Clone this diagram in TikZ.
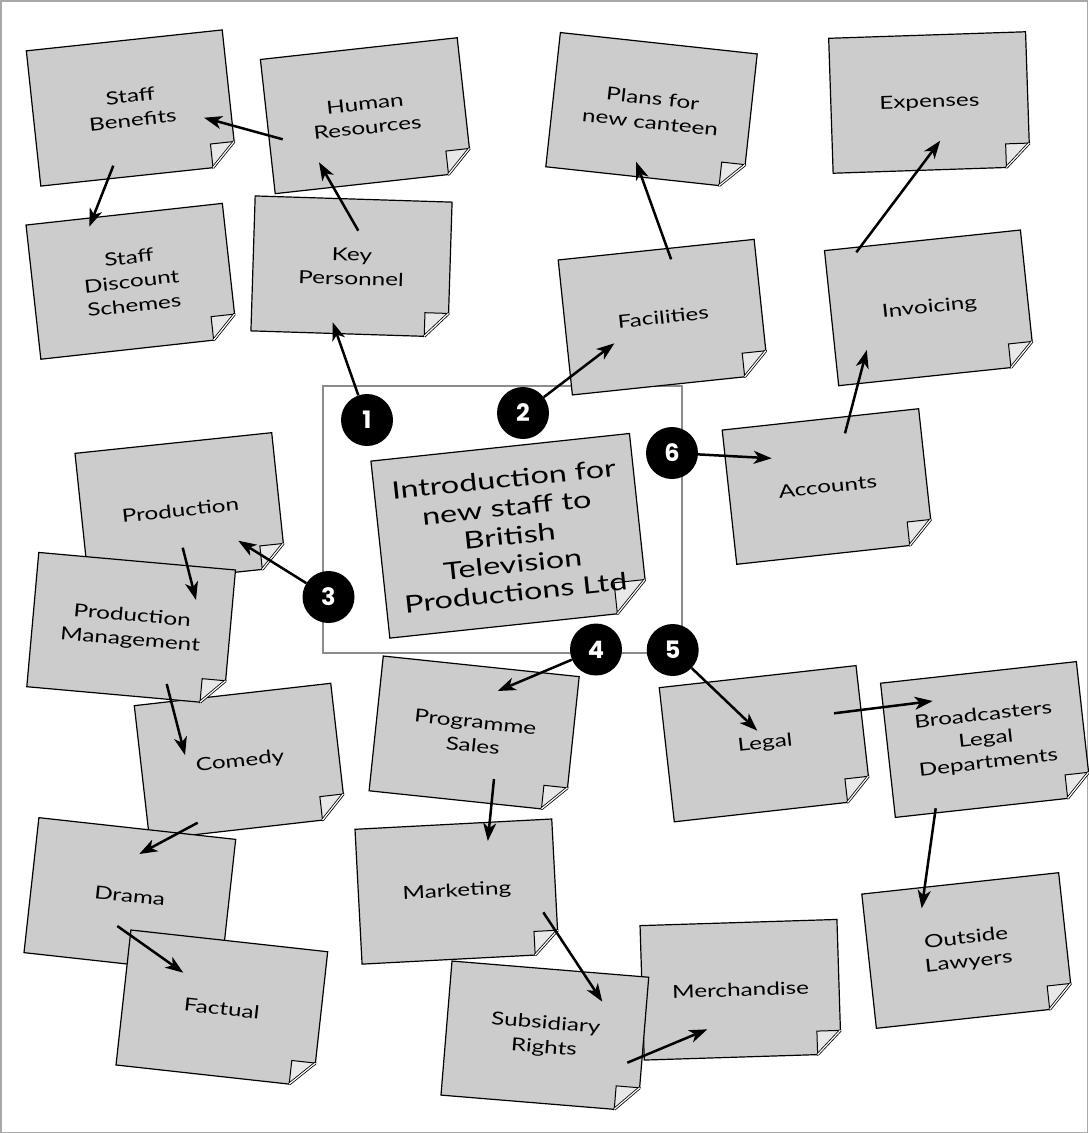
\documentclass[tikz,border=0pt]{standalone}
\usepackage{fontspec}
\setmainfont{Lato}[FakeStretch=1.35]
\newfontfamily\numfont{Poppins}
\usetikzlibrary{arrows.meta}
\definecolor{notegray}{HTML}{CCCCCC}
\definecolor{foldgray}{HTML}{E8E8E8}
\definecolor{framegray}{HTML}{8C8C8C}
\definecolor{bordergray}{HTML}{A8A8A8}
\tikzset{
  notebody/.style={fill=notegray, draw=black, line width=1.2pt, line join=miter},
  notefold/.style={fill=foldgray, draw=black, line width=1pt, line join=miter},
  notecrease/.style={draw=black, line width=0.8pt, double=white, double distance=1.2pt},
  notetext/.style={align=center, inner sep=0pt, font=\fontsize{18}{24}\selectfont},
  bigtext/.style={align=center, inner sep=0pt, font=\fontsize{24}{28.5}\selectfont},
  conn/.style={line width=2.5pt, -{Stealth[length=18pt,width=13pt,inset=5pt]}},
  numdot/.style={circle, fill=black, minimum size=52pt, inner sep=0pt, text=white,
    font=\numfont\bfseries\fontsize{24}{24}\selectfont},
  framebox/.style={draw=framegray, line width=2pt, minimum width=359pt, minimum height=267pt, inner sep=0pt},
}
% name, cx, cy, angle, w, h, text, text style
\newcommand\stickynote[8]{%
  \begin{scope}[shift={(#2,#3)},rotate=#4]
    \pgfmathsetmacro\nhw{#5/2}\pgfmathsetmacro\nhh{#6/2}\pgfmathsetmacro\ncut{#6*0.175}
    \filldraw[notebody] (-\nhw,-\nhh) -- (\nhw,-\nhh) -- (\nhw,\nhh-\ncut) -- (\nhw-\ncut,\nhh) -- (-\nhw,\nhh) -- cycle;
    \filldraw[notefold] (\nhw,\nhh-\ncut) -- (\nhw-\ncut,\nhh-\ncut) -- (\nhw-\ncut,\nhh) -- cycle;
    \draw[notecrease] (\nhw,\nhh-\ncut) -- (\nhw-\ncut,\nhh);
  \end{scope}
  \node[#8,rotate=#4] (#1) at (#2,#3) {#7};
}
\begin{document}
\begin{tikzpicture}[x=1pt,y=-1pt]
\useasboundingbox (0,0) rectangle (1088,1133);
\draw[bordergray, line width=1.5pt] (0.75,0.75) rectangle (1087.25,1132.25);
\node[framebox] (frame) at (502.5,519.5) {};

\stickynote{hr}{366.2}{115.7}{6.3}{198}{135}{Human\\Resources}{notetext}
\stickynote{sb}{131.5}{108}{6.1}{197}{136}{Staff\\Benefits}{notetext}
\stickynote{sds}{131.6}{281.3}{6.3}{197.5}{135}{Staff\\Discount\\Schemes}{notetext}
\stickynote{kp}{351.5}{266.5}{-1.8}{197}{135}{Key\\Personnel}{notetext}
\stickynote{plans}{651.5}{110.35}{-6.2}{198}{135}{Plans for\\new canteen}{notetext}
\stickynote{fac}{663.25}{317.15}{6.0}{197}{135.7}{Facilities}{notetext}
\stickynote{exp}{929.35}{102.5}{1.9}{197}{135}{Expenses}{notetext}
\stickynote{inv}{929.55}{307.85}{6.0}{197}{135.8}{Invoicing}{notetext}
\stickynote{acc}{827.7}{486.5}{6.2}{197.6}{135}{Accounts}{notetext}
\stickynote{intro}{509.65}{535.8}{6.1}{260}{178}{Introduction for\\new staff to\\British\\Television\\Productions Ltd}{bigtext}
\stickynote{prod}{180.4}{510.15}{6.0}{197.8}{135}{Production}{notetext}
\stickynote{com}{240.15}{761.55}{6.5}{197.7}{135}{Comedy}{notetext}
\stickynote{pm}{131.15}{628.35}{-5.1}{197.5}{134.8}{Production\\Management}{notetext}
\stickynote{dra}{129.85}{896}{-6.3}{198}{135.8}{Drama}{notetext}
\stickynote{fact}{221.85}{1008.35}{-6.3}{198}{135.8}{Factual}{notetext}
\stickynote{ps}{474.15}{733.7}{-6.0}{197}{135.5}{Programme\\Sales}{notetext}
\stickynote{mkt}{456.9}{891.55}{3}{197}{135}{Marketing}{notetext}
\stickynote{merch}{740.6}{989.75}{1.8}{197}{134.5}{Merchandise}{notetext}
\stickynote{sub}{544.85}{1036.15}{-4.7}{197.4}{134.5}{Subsidiary\\Rights}{notetext}
\stickynote{legal}{765.15}{743.7}{6.4}{198}{135}{Legal}{notetext}
\stickynote{bld}{985.85}{739.5}{6.3}{197}{135}{Broadcasters\\Legal\\Departments}{notetext}
\stickynote{ol}{967.5}{950.5}{6.2}{198}{135}{Outside\\Lawyers}{notetext}

\node[numdot] (n1) at (367,420) {1};
\node[numdot] (n2) at (523,413) {2};
\node[numdot] (n3) at (328.5,597) {3};
\node[numdot] (n4) at (596,649.5) {4};
\node[numdot] (n5) at (672.7,650) {5};
\node[numdot] (n6) at (672,453) {6};

\draw[conn] ([shift={(-83.5,23.6)}]hr.center) -- ([shift={(72.5,9.7)}]sb.center);
\draw[conn] ([shift={(-18.2,57.7)}]sb.center) -- ([shift={(-42.3,-54.6)}]sds.center);
\draw[conn] ([shift={(6.8,-35.8)}]kp.center) -- ([shift={(-47.2,46.6)}]hr.center);
\draw[conn] (n1) -- ([shift={(-18.8,55.8)}]kp.center);
\draw[conn] (n2) -- ([shift={(-48.85,26.15)}]fac.center);
\draw[conn] ([shift={(7.85,-57.85)}]fac.center) -- ([shift={(-15.4,51.35)}]plans.center);
\draw[conn] ([shift={(-73.25,-55.55)}]inv.center) -- ([shift={(10.85,38.2)}]exp.center);
\draw[conn] ([shift={(17.3,-53.2)}]acc.center) -- ([shift={(-62.75,42.15)}]inv.center);
\draw[conn] (n6) -- ([shift={(-56,-28.2)}]acc.center);
\draw[conn] (n3) -- ([shift={(57.9,30.55)}]prod.center);
\draw[conn] ([shift={(2.3,37.55)}]prod.center) -- ([shift={(64.85,-28.35)}]pm.center);
\draw[conn] ([shift={(35.55,55.65)}]pm.center) -- ([shift={(-55.15,-6.55)}]com.center);
\draw[conn] ([shift={(-42.45,61.15)}]com.center) -- ([shift={(9.45,-42)}]dra.center);
\draw[conn] ([shift={(-12.55,30)}]dra.center) -- ([shift={(-38.55,-35.65)}]fact.center);
\draw[conn] (n4) -- ([shift={(23.55,-42.7)}]ps.center);
\draw[conn] ([shift={(19.85,45.3)}]ps.center) -- ([shift={(30.9,-50.55)}]mkt.center);
\draw[conn] ([shift={(86.4,20.75)}]mkt.center) -- ([shift={(57.45,-34.45)}]sub.center);
\draw[conn] ([shift={(82.45,26.55)}]sub.center) -- ([shift={(-33.3,39.55)}]merch.center);
\draw[conn] (n5) -- ([shift={(-7.85,-13)}]legal.center);
\draw[conn] ([shift={(68.85,-30.4)}]legal.center) -- ([shift={(-53.15,-38.5)}]bld.center);
\draw[conn] ([shift={(-50.15,68.8)}]bld.center) -- ([shift={(-45.8,-42.2)}]ol.center);
\end{tikzpicture}
\end{document}
